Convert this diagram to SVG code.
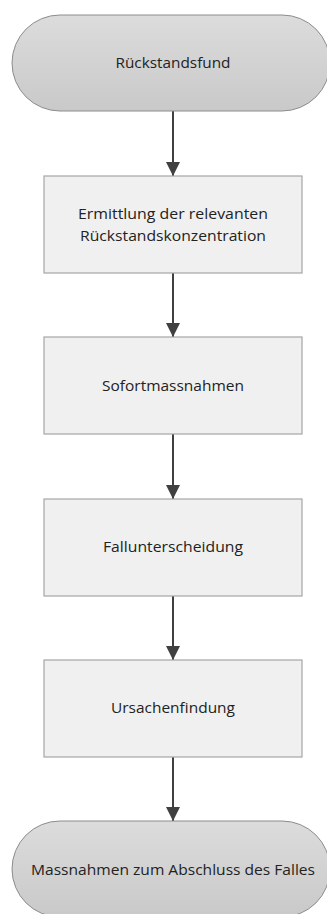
<svg xmlns="http://www.w3.org/2000/svg" width="327" height="914" viewBox="0 0 327 914">
<style>
.term{fill:url(#g);stroke:#8c8c8c;stroke-width:1}
.box{fill:#f0f0f0;stroke:#a6a6a6;stroke-width:1.2}
.t{font-family:"Open Sans","Noto Sans",sans-serif;font-size:15px;fill:#222;text-anchor:middle}
.c{stroke:#404040;stroke-width:2;fill:none}
</style>
<defs>
<linearGradient id="g" x1="0" y1="0" x2="0" y2="1">
<stop offset="0" stop-color="#dcdcdc"/>
<stop offset="1" stop-color="#c9c9c9"/>
</linearGradient>
<marker id="a" viewBox="0 0 14 14" refX="14" refY="7" markerWidth="14" markerHeight="14" markerUnits="userSpaceOnUse" orient="auto">
<path d="M0,0 L14,7 L0,14 Z" fill="#404040"/>
</marker>
</defs>
<rect width="327" height="914" fill="#fff"/>
<g id="connectors">
<line class="c" x1="173" y1="111" x2="173" y2="176" marker-end="url(#a)"/>
<line class="c" x1="173" y1="273" x2="173" y2="337" marker-end="url(#a)"/>
<line class="c" x1="173" y1="434" x2="173" y2="499" marker-end="url(#a)"/>
<line class="c" x1="173" y1="596" x2="173" y2="660" marker-end="url(#a)"/>
<line class="c" x1="173" y1="757" x2="173" y2="821" marker-end="url(#a)"/>
</g>
<g id="n1">
<rect class="term" x="12" y="15" width="318" height="96" rx="48" ry="48"/>
<text class="t" x="173" y="68" textLength="115" lengthAdjust="spacingAndGlyphs">Rückstandsfund</text>
</g>
<g id="n2">
<rect class="box" x="44" y="176" width="258" height="97"/>
<text class="t" x="173" y="219" textLength="190" lengthAdjust="spacingAndGlyphs">Ermittlung der relevanten</text>
<text class="t" x="173" y="241" textLength="186" lengthAdjust="spacingAndGlyphs">Rückstandskonzentration</text>
</g>
<g id="n3">
<rect class="box" x="44" y="337" width="258" height="97"/>
<text class="t" x="173" y="391" textLength="142" lengthAdjust="spacingAndGlyphs">Sofortmassnahmen</text>
</g>
<g id="n4">
<rect class="box" x="44" y="499" width="258" height="97"/>
<text class="t" x="173" y="552" textLength="140" lengthAdjust="spacingAndGlyphs">Fallunterscheidung</text>
</g>
<g id="n5">
<rect class="box" x="44" y="660" width="258" height="97"/>
<text class="t" x="173" y="713" textLength="124" lengthAdjust="spacingAndGlyphs">Ursachenfindung</text>
</g>
<g id="n6">
<rect class="term" x="12" y="821" width="318" height="96" rx="48" ry="48"/>
<text class="t" x="173" y="875" textLength="284" lengthAdjust="spacingAndGlyphs">Massnahmen zum Abschluss des Falles</text>
</g>
</svg>
